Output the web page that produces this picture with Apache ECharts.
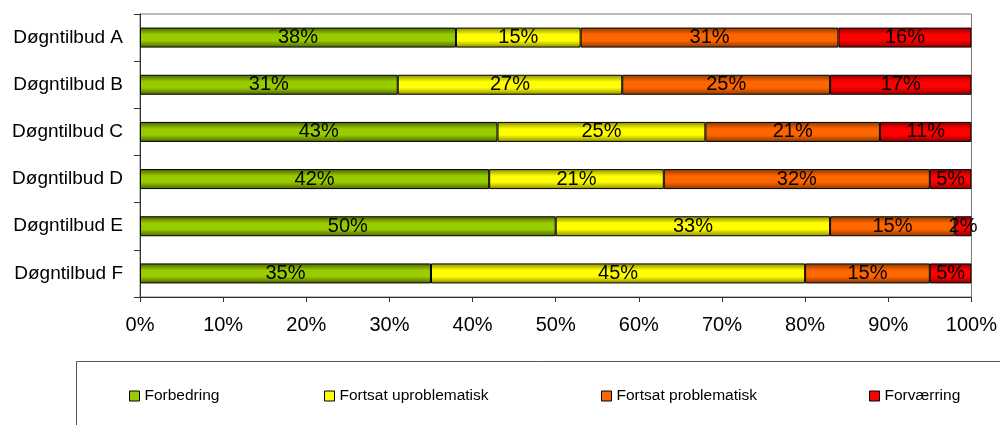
<!DOCTYPE html>
<html>
<head>
<meta charset="utf-8">
<script src="https://cdn.jsdelivr.net/npm/echarts@6/dist/echarts.min.js"></script>
<style>
  html, body { margin: 0; padding: 0; background: #fff; }
  #chart { width: 1000px; height: 425px; }
</style>
</head>
<body>
<div id="chart"></div>
<script>
const categories = ['Døgntilbud A', 'Døgntilbud B', 'Døgntilbud C', 'Døgntilbud D', 'Døgntilbud E', 'Døgntilbud F'];
const seriesNames = ['Forbedring', 'Fortsat uproblematisk', 'Fortsat problematisk', 'Forværring'];
const forbedring = [38, 31, 43, 42, 50, 35];
const uproblematisk = [15, 27, 25, 21, 33, 45];
const problematisk = [31, 25, 21, 32, 15, 15];
const forvaerring = [16, 17, 11, 5, 2, 5];
const xTicks = [0, 10, 20, 30, 40, 50, 60, 70, 80, 90, 100];

const baseColors = ['#99cc00', '#ffff00', '#ff6600', '#ff0000'];
const darkColors = ['#4a6300', '#8a8a00', '#8a3700', '#8a0000'];
const legendLeft = [129, 324, 601, 869];

const chart = echarts.init(document.getElementById('chart'));

function grad(i) {
  return new echarts.graphic.LinearGradient(0, 0, 0, 1, [
    { offset: 0, color: darkColors[i] },
    { offset: 0.35, color: baseColors[i] },
    { offset: 0.65, color: baseColors[i] },
    { offset: 1, color: darkColors[i] }
  ]);
}

const values = [forbedring, uproblematisk, problematisk, forvaerring];

const series = seriesNames.map((name, i) => ({
  name: name,
  type: 'bar',
  stack: 'total',
  barWidth: 20,
  data: values[i],
  itemStyle: { color: grad(i), borderColor: '#000', borderWidth: 1 },
  label: {
    show: true,
    position: 'inside',
    formatter: '{c}%',
    color: '#000',
    fontFamily: 'Liberation Sans',
    fontSize: 20
  }
}));

const legends = seriesNames.map((name, i) => ({
  data: [{ name: name, itemStyle: { color: baseColors[i], borderColor: '#000', borderWidth: 1 } }],
  left: legendLeft[i],
  top: 388,
  padding: 0,
  itemWidth: 10,
  itemHeight: 10,
  icon: 'rect',
  textStyle: { fontFamily: 'Liberation Sans', fontSize: 15.5, color: '#000' }
}));

chart.setOption({
  animation: false,
  backgroundColor: '#fff',
  grid: {
    left: 140, right: 26, top: 14, bottom: 128,
    show: true, borderColor: '#777', borderWidth: 1
  },
  legend: legends,
  graphic: [{
    type: 'rect',
    shape: { x: 76.5, y: 361.5, width: 940, height: 100 },
    style: { fill: 'none', stroke: '#555', lineWidth: 1 },
    z: -1
  }],
  xAxis: {
    type: 'value',
    min: 0, max: 100, interval: 10,
    axisLine: { show: true, lineStyle: { color: '#333' } },
    axisTick: { show: true, length: 5, lineStyle: { color: '#333' } },
    splitLine: { show: false },
    axisLabel: {
      formatter: v => xTicks.includes(v) ? v + '%' : '',
      color: '#000', fontFamily: 'Liberation Sans', fontSize: 20, margin: 18
    }
  },
  yAxis: {
    type: 'category',
    data: categories,
    inverse: true,
    axisLine: { show: true, lineStyle: { color: '#333' } },
    axisTick: { show: true, length: 6, lineStyle: { color: '#333' } },
    axisLabel: { color: '#000', fontFamily: 'Liberation Sans', fontSize: 19, margin: 17 }
  },
  series: series
});
</script>
</body>
</html>
